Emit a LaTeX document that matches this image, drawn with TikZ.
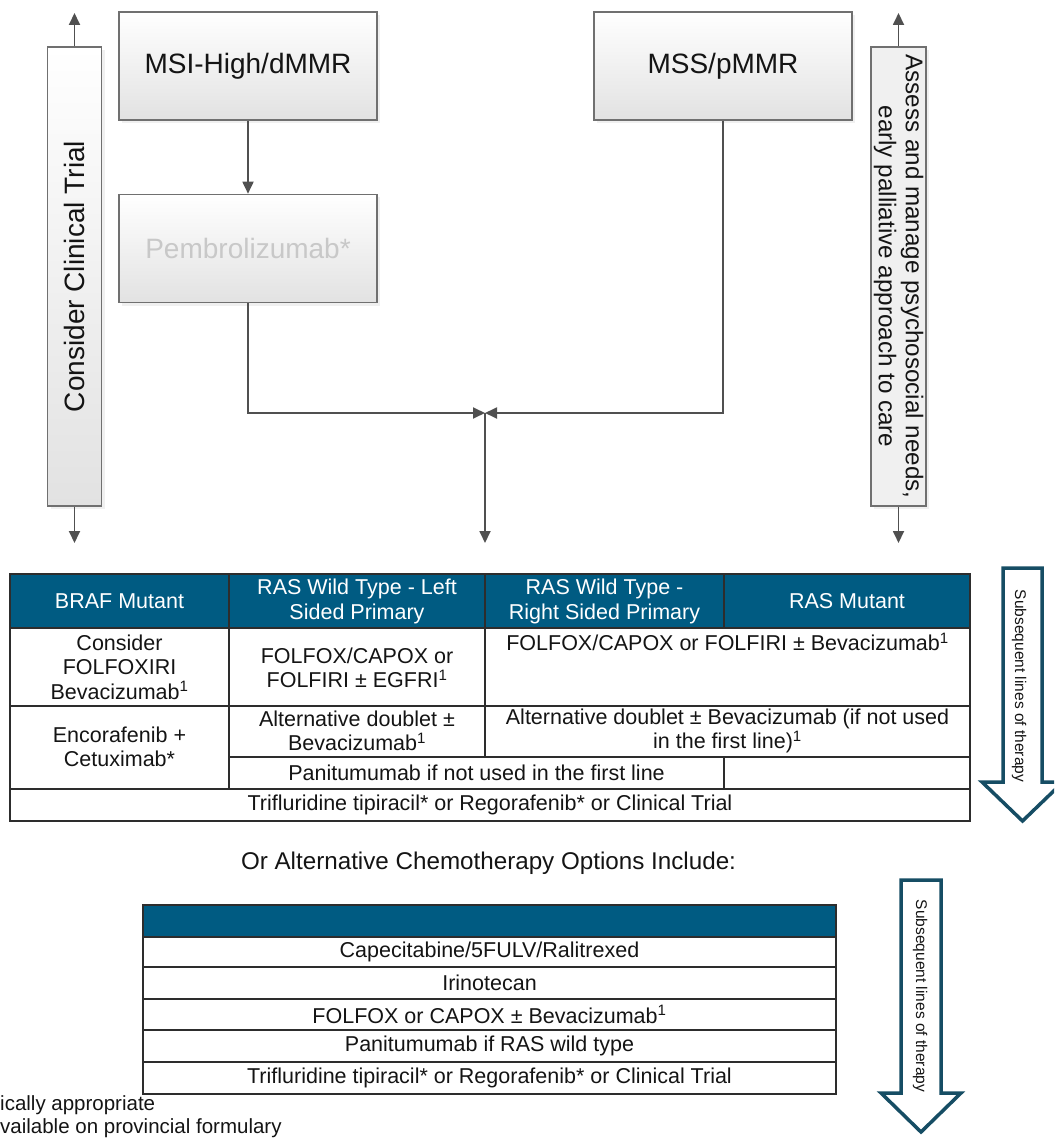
\documentclass[tikz,border=0pt]{standalone}
\usepackage{fontspec}
\setmainfont{Liberation Sans}
\usetikzlibrary{arrows.meta,shadows}
\definecolor{hdr}{RGB}{0,91,130}
\definecolor{arrowc}{RGB}{22,77,100}
\definecolor{boxline}{RGB}{112,112,112}
\definecolor{boxgray}{RGB}{226,226,226}
\definecolor{linegray}{RGB}{80,80,80}
\definecolor{tline}{RGB}{45,45,45}
\definecolor{pemtext}{RGB}{200,200,200}
\definecolor{ink}{RGB}{20,20,20}
\begin{document}
\begin{tikzpicture}[x=1pt,y=-1pt,
  fbox/.style={draw=boxline, line width=1.6pt, top color=white, bottom color=boxgray,
    minimum width=258pt, minimum height=108pt, inner sep=0pt, text=ink,
    font=\fontsize{28}{32}\selectfont,
    drop shadow={opacity=0.12, shadow xshift=3pt, shadow yshift=-3pt}},
  vboxl/.style={draw=boxline, line width=1.6pt, rotate=90, top color=white, bottom color=boxgray,
    minimum width=459pt, minimum height=54pt, inner sep=0pt, text=ink,
    font=\fontsize{28}{32}\selectfont,
    drop shadow={opacity=0.12, shadow xshift=3pt, shadow yshift=-3pt}},
  vboxr/.style={draw=boxline, line width=1.6pt, rotate=-90, fill=black!6,
    minimum width=459pt, minimum height=55pt, inner sep=0pt, text=ink, align=center,
    font=\fontsize{24.2}{27}\selectfont,
    drop shadow={opacity=0.12, shadow xshift=3pt, shadow yshift=-3pt}},
  conn/.style={draw=linegray, line width=1.8pt},
  arr/.style={conn, -{Triangle[length=12pt,width=11pt]}},
  cell/.style={inner sep=0pt, align=center, text=ink, font=\fontsize{21.5}{24.5}\selectfont},
  hcell/.style={cell, text=white},
  tl/.style={draw=tline, line width=1.5pt},
  bigarrow/.style={draw=arrowc, line width=3.5pt, fill=white, line join=miter},
  arrtext/.style={rotate=-90, inner sep=0pt, text=ink, font=\fontsize{15.5}{17}\selectfont},
  foot/.style={inner sep=0pt, anchor=west, text=ink, font=\fontsize{20.5}{23}\selectfont}
]
\useasboundingbox (0,0) rectangle (1054,1139);
\clip (0,0) rectangle (1054,1139);

% ---------- flowchart ----------
\node[vboxl] (ct) at (74.5,276.5) {Consider Clinical Trial};
\node[fbox] (msi) at (248,66) {MSI-High/dMMR};
\node[fbox, text=pemtext] (pem) at (248,248.5) {Pembrolizumab*};
\node[fbox] (mss) at (723,66) {MSS/pMMR};
\node[vboxr] (as) at (898.5,276.5) {Assess and manage psychosocial needs,\\early palliative approach to care};

\coordinate (ctup) at (74.5,13);
\coordinate (ctdn) at (74.5,543);
\coordinate (asup) at (898.5,13);
\coordinate (asdn) at (898.5,543);
\coordinate (junc) at (485,413);
\coordinate (down) at (485,543);

\draw[arr] (ct.east) -- (ctup);
\draw[arr] (ct.west) -- (ctdn);
\draw[arr] (as.west) -- (asup);
\draw[arr] (as.east) -- (asdn);
\draw[arr] (msi.south) -- (pem.north);
\draw[arr] (pem.south) |- (junc);
\draw[arr] (mss.south) |- (junc);
\draw[arr] (junc) -- (down);

% ---------- table 1 ----------
\fill[hdr] (10,574) rectangle (970,628);
\draw[tl] (10,628) -- (970,628);
\draw[tl] (10,706) -- (970,706);
\draw[tl] (229,757) -- (970,757);
\draw[tl] (10,789) -- (970,789);
\draw[tl] (229,574) -- (229,789);
\draw[tl] (485,574) -- (485,757);
\draw[tl] (724,574) -- (724,628);
\draw[tl] (724,757) -- (724,789);
\draw[tl, line width=1.8pt] (10,574) rectangle (970,821);

\node[hcell] (h1) at (119.5,601) {BRAF Mutant};
\node[hcell] (h2) at (357,601.5) {RAS Wild Type - Left\\Sided Primary};
\node[hcell] (h3) at (604.5,601.5) {RAS Wild Type -\\Right Sided Primary};
\node[hcell] (h4) at (847,601) {RAS Mutant};

\node[cell] (c21) at (119.5,667) {Consider\\FOLFOXIRI\\Bevacizumab\textsuperscript{1}};
\node[cell] (c22) at (357,668) {FOLFOX/CAPOX or\\FOLFIRI ± EGFRI\textsuperscript{1}};
\node[cell] (c23) at (727.5,642) {FOLFOX/CAPOX or FOLFIRI ± Bevacizumab\textsuperscript{1}};

\node[cell] (c31) at (119.5,747) {Encorafenib +\\Cetuximab*};
\node[cell] (c32) at (357,731) {Alternative doublet ±\\Bevacizumab\textsuperscript{1}};
\node[cell] (c33) at (727.5,731) {Alternative doublet ± Bevacizumab (if not used\\in the first line)\textsuperscript{1}};

\node[cell] (c42) at (476.5,773) {Panitumumab if not used in the first line};
\node[cell] (c5) at (490,805) {Trifluridine tipiracil* or Regorafenib* or Clinical Trial};

% arrow 1
\draw[bigarrow] (1003,568) -- (1042,568) -- (1042,782) -- (1063,782) -- (1022.5,821)
  -- (982,782) -- (1003,782) -- cycle;
\node[arrtext] (a1t) at (1019,686) {Subsequent lines of therapy};

% ---------- title ----------
\node[cell, font=\fontsize{24.2}{27}\selectfont] (alt) at (488.5,863) {Or Alternative Chemotherapy Options Include:};

% ---------- table 2 ----------
\fill[hdr] (143,905) rectangle (836,937);
\draw[tl] (143,937) -- (836,937);
\draw[tl] (143,967) -- (836,967);
\draw[tl] (143,999) -- (836,999);
\draw[tl] (143,1030) -- (836,1030);
\draw[tl] (143,1062) -- (836,1062);
\draw[tl, line width=1.8pt] (143,905) rectangle (836,1094);

\node[cell] (t1) at (489.5,952) {Capecitabine/5FULV/Ralitrexed};
\node[cell] (t2) at (489.5,983) {Irinotecan};
\node[cell] (t3) at (489.5,1014.5) {FOLFOX or CAPOX ± Bevacizumab\textsuperscript{1}};
\node[cell] (t4) at (489.5,1046) {Panitumumab if RAS wild type};
\node[cell] (t5) at (489.5,1078) {Trifluridine tipiracil* or Regorafenib* or Clinical Trial};

% arrow 2
\draw[bigarrow] (901,880) -- (941,880) -- (941,1093) -- (961,1093) -- (921,1132)
  -- (881,1093) -- (901,1093) -- cycle;
\node[arrtext] (a2t) at (920,996) {Subsequent lines of therapy};

% ---------- footnotes ----------
\node[foot] (f1) at (0,1105) {ically appropriate};
\node[foot] (f2) at (0,1128) {vailable on provincial formulary};
\end{tikzpicture}
\end{document}
